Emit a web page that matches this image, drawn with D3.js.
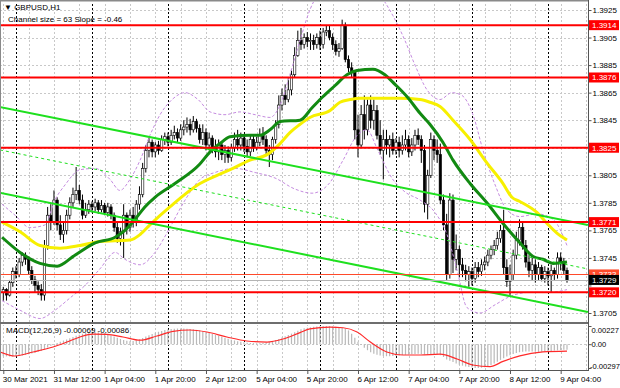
<!DOCTYPE html>
<html>
<head>
<meta charset="utf-8">
<script src="https://d3js.org/d3.v7.min.js"></script>
<style>
body { margin: 0; background: #fff; }
text { font-family: Tahoma, "Liberation Sans", Arial, sans-serif; }
</style>
</head>
<body>
<div id="chart-area"></div>
<script>
/*
*    GBPUSD H1 chart
*/

// hourly candles, [open, high, low, close], 30 Mar 20:00 .. 9 Apr 06:00
var candles = [
[1.3720,1.3724,1.3714,1.3722],[1.3722,1.3723,1.3714,1.3718],[1.3718,1.3729,1.3717,1.3727],[1.3727,1.3738,1.3724,1.3735],
[1.3735,1.3739,1.3730,1.3733],[1.3733,1.3745,1.3731,1.3742],[1.3742,1.3749,1.3739,1.3747],[1.3747,1.3749,1.3740,1.3744],
[1.3744,1.3746,1.3733,1.3736],[1.3736,1.3739,1.3726,1.3729],[1.3729,1.3732,1.3720,1.3725],[1.3725,1.3728,1.3718,1.3722],
[1.3722,1.3726,1.3714,1.3718],[1.3718,1.3758,1.3714,1.3754],[1.3754,1.3782,1.3751,1.3776],[1.3776,1.3784,1.3765,1.3771],
[1.3771,1.3794,1.3769,1.3787],[1.3787,1.3789,1.3765,1.3769],[1.3769,1.3776,1.3758,1.3762],[1.3762,1.3771,1.3756,1.3765],
[1.3765,1.3780,1.3762,1.3776],[1.3776,1.3789,1.3773,1.3785],[1.3785,1.3796,1.3782,1.3791],[1.3791,1.3811,1.3787,1.3794],
[1.3794,1.3798,1.3784,1.3787],[1.3787,1.3791,1.3773,1.3776],[1.3776,1.3785,1.3774,1.3780],[1.3780,1.3787,1.3777,1.3784],
[1.3784,1.3786,1.3778,1.3782],[1.3782,1.3788,1.3779,1.3785],[1.3785,1.3787,1.3777,1.3780],[1.3780,1.3787,1.3778,1.3783],
[1.3783,1.3785,1.3776,1.3778],[1.3778,1.3785,1.3775,1.3782],[1.3782,1.3784,1.3773,1.3776],[1.3776,1.3778,1.3764,1.3767],
[1.3767,1.3771,1.3756,1.3759],[1.3759,1.3767,1.3754,1.3764],[1.3764,1.3784,1.3745,1.3776],[1.3776,1.3778,1.3762,1.3767],
[1.3767,1.3780,1.3764,1.3776],[1.3776,1.3782,1.3767,1.3771],[1.3771,1.3787,1.3768,1.3784],[1.3784,1.3797,1.3780,1.3791],
[1.3791,1.3814,1.3789,1.3810],[1.3810,1.3827,1.3807,1.3823],[1.3823,1.3832,1.3818,1.3829],[1.3829,1.3831,1.3818,1.3822],
[1.3822,1.3829,1.3818,1.3827],[1.3827,1.3830,1.3820,1.3823],[1.3823,1.3834,1.3822,1.3831],[1.3831,1.3836,1.3827,1.3833],
[1.3833,1.3836,1.3826,1.3829],[1.3829,1.3838,1.3827,1.3834],[1.3834,1.3841,1.3831,1.3836],[1.3836,1.3839,1.3829,1.3832],
[1.3832,1.3842,1.3830,1.3838],[1.3838,1.3845,1.3834,1.3840],[1.3840,1.3847,1.3836,1.3842],[1.3842,1.3846,1.3834,1.3838],
[1.3838,1.3848,1.3836,1.3844],[1.3844,1.3846,1.3836,1.3839],[1.3839,1.3842,1.3828,1.3831],[1.3831,1.3842,1.3827,1.3836],
[1.3836,1.3839,1.3823,1.3827],[1.3827,1.3836,1.3823,1.3832],[1.3832,1.3834,1.3821,1.3825],[1.3825,1.3831,1.3818,1.3822],
[1.3822,1.3831,1.3816,1.3827],[1.3827,1.3829,1.3816,1.3820],[1.3820,1.3827,1.3814,1.3823],[1.3823,1.3826,1.3814,1.3818],
[1.3818,1.3828,1.3815,1.3825],[1.3825,1.3836,1.3822,1.3831],[1.3831,1.3838,1.3823,1.3827],[1.3827,1.3836,1.3823,1.3832],
[1.3832,1.3834,1.3822,1.3826],[1.3826,1.3831,1.3818,1.3822],[1.3822,1.3834,1.3819,1.3831],[1.3831,1.3834,1.3822,1.3825],
[1.3825,1.3833,1.3823,1.3829],[1.3829,1.3839,1.3826,1.3834],[1.3834,1.3840,1.3827,1.3831],[1.3831,1.3834,1.3820,1.3823],
[1.3823,1.3827,1.3811,1.3820],[1.3820,1.3833,1.3816,1.3831],[1.3831,1.3845,1.3828,1.3842],[1.3842,1.3863,1.3839,1.3856],
[1.3856,1.3868,1.3852,1.3863],[1.3863,1.3871,1.3856,1.3860],[1.3860,1.3876,1.3858,1.3867],[1.3867,1.3881,1.3863,1.3878],
[1.3878,1.3898,1.3876,1.3892],[1.3892,1.3910,1.3891,1.3903],[1.3903,1.3912,1.3896,1.3900],[1.3900,1.3908,1.3897,1.3905],
[1.3905,1.3909,1.3898,1.3902],[1.3902,1.3908,1.3896,1.3903],[1.3903,1.3907,1.3896,1.3900],[1.3900,1.3908,1.3897,1.3905],
[1.3905,1.3910,1.3896,1.3900],[1.3900,1.3912,1.3897,1.3909],[1.3909,1.3914,1.3906,1.3910],[1.3910,1.3914,1.3903,1.3905],
[1.3905,1.3908,1.3896,1.3900],[1.3900,1.3903,1.3892,1.3895],[1.3895,1.3901,1.3891,1.3897],[1.3897,1.3918,1.3896,1.3914],
[1.3914,1.3916,1.3887,1.3889],[1.3889,1.3892,1.3880,1.3883],[1.3883,1.3887,1.3876,1.3880],[1.3880,1.3881,1.3831,1.3838],
[1.3838,1.3849,1.3818,1.3827],[1.3827,1.3856,1.3825,1.3849],[1.3849,1.3863,1.3831,1.3838],[1.3838,1.3860,1.3834,1.3856],
[1.3856,1.3863,1.3839,1.3845],[1.3845,1.3860,1.3838,1.3852],[1.3852,1.3856,1.3831,1.3834],[1.3834,1.3845,1.3820,1.3823],
[1.3823,1.3838,1.3802,1.3831],[1.3831,1.3838,1.3820,1.3827],[1.3827,1.3834,1.3818,1.3831],[1.3831,1.3836,1.3820,1.3823],
[1.3823,1.3832,1.3820,1.3829],[1.3829,1.3833,1.3818,1.3823],[1.3823,1.3834,1.3820,1.3827],[1.3827,1.3838,1.3823,1.3831],
[1.3831,1.3834,1.3818,1.3822],[1.3822,1.3832,1.3819,1.3827],[1.3827,1.3838,1.3823,1.3834],[1.3834,1.3839,1.3827,1.3831],
[1.3831,1.3834,1.3814,1.3823],[1.3823,1.3827,1.3778,1.3784],[1.3784,1.3809,1.3773,1.3805],[1.3805,1.3836,1.3803,1.3831],
[1.3831,1.3834,1.3816,1.3823],[1.3823,1.3831,1.3814,1.3820],[1.3820,1.3828,1.3784,1.3787],[1.3787,1.3791,1.3765,1.3769],
[1.3769,1.3777,1.3729,1.3733],[1.3733,1.3792,1.3730,1.3787],[1.3787,1.3791,1.3734,1.3744],[1.3744,1.3762,1.3736,1.3751],
[1.3751,1.3754,1.3731,1.3740],[1.3740,1.3745,1.3731,1.3736],[1.3736,1.3740,1.3728,1.3733],[1.3733,1.3739,1.3724,1.3735],
[1.3735,1.3738,1.3725,1.3730],[1.3730,1.3742,1.3727,1.3738],[1.3738,1.3742,1.3731,1.3735],[1.3735,1.3744,1.3732,1.3740],
[1.3740,1.3746,1.3736,1.3742],[1.3742,1.3751,1.3739,1.3747],[1.3747,1.3754,1.3744,1.3751],[1.3751,1.3758,1.3747,1.3754],
[1.3754,1.3764,1.3751,1.3759],[1.3759,1.3769,1.3756,1.3765],[1.3765,1.3780,1.3733,1.3738],[1.3738,1.3744,1.3724,1.3728],
[1.3728,1.3740,1.3717,1.3733],[1.3733,1.3751,1.3729,1.3747],[1.3747,1.3764,1.3744,1.3758],[1.3758,1.3773,1.3754,1.3767],
[1.3767,1.3771,1.3751,1.3754],[1.3754,1.3758,1.3738,1.3742],[1.3742,1.3747,1.3731,1.3736],[1.3736,1.3745,1.3729,1.3740],
[1.3740,1.3744,1.3727,1.3733],[1.3733,1.3742,1.3729,1.3738],[1.3738,1.3740,1.3728,1.3730],[1.3730,1.3739,1.3727,1.3735],
[1.3735,1.3738,1.3725,1.3732],[1.3732,1.3740,1.3720,1.3736],[1.3736,1.3738,1.3729,1.3733],[1.3733,1.3749,1.3730,1.3745],
[1.3745,1.3749,1.3736,1.3742],[1.3742,1.3745,1.3733,1.3736],[1.3736,1.3738,1.3727,1.3729]
];

// moving averages and bands, [bar, price]
var maGreen = [[-0.4,1.3760],[5.3,1.3749],[11.6,1.3741],[17,1.3739],[22.6,1.3747],[29,1.3756],[35.3,1.3760],
  [38.4,1.3765],[41.6,1.3773],[44.7,1.3782],[47.9,1.3789],[54.2,1.3799],[62,1.3813],[65.3,1.3822],[68.4,1.3828],
  [71.6,1.3833],[77.9,1.3834],[81,1.3834],[84.2,1.3838],[87.4,1.3844],[93.7,1.3845],[97.5,1.3854],[100.9,1.3862],
  [104.7,1.3870],[108.5,1.3878],[111.7,1.3881],[116.7,1.3882],[120.5,1.3878],[123.7,1.3871],[127.5,1.3862],
  [131.6,1.3850],[134.7,1.3842],[138.8,1.3829],[142,1.3816],[147.4,1.3799],[152.7,1.3785],[157.8,1.3770],
  [163.1,1.3756],[167.3,1.3746],[170.4,1.3744],[173.6,1.3741],[178,1.3742]];
var maYellow = [[-0.4,1.3771],[5.3,1.3764],[11.6,1.3754],[17.9,1.3752],[24.2,1.3754],[30.5,1.3757],[40,1.3758],
  [43.2,1.3762],[46.3,1.3769],[52.6,1.3782],[62.1,1.3799],[67.5,1.3805],[72.5,1.3810],[77.9,1.3816],[83.3,1.3820],
  [87.4,1.3828],[90.5,1.3836],[93.7,1.3842],[96.8,1.3847],[103.2,1.3852],[106.3,1.3858],[109.5,1.3860],
  [112.6,1.3861],[116.7,1.3861],[125.3,1.3861],[131.6,1.3860],[134.7,1.3858],[137.9,1.3855],[142,1.3845],
  [147.4,1.3831],[152.7,1.3814],[157.8,1.3799],[160.6,1.3789],[163.1,1.3786],[168.5,1.3778],[171.7,1.3770],
  [174.8,1.3763],[178,1.3758]];
var bandUpper = [[-0.4,1.3784],[3.7,1.3776],[8.4,1.3767],[13.2,1.3769],[16.3,1.3787],[19.5,1.3798],[24.2,1.3809],
  [29,1.3810],[33.7,1.3802],[36.8,1.3794],[40,1.3802],[43.2,1.3816],[46.3,1.3834],[49.5,1.3849],[53.3,1.3860],
  [57.4,1.3865],[61.5,1.3860],[65.3,1.3851],[70,1.3849],[74.7,1.3851],[79.5,1.3849],[84.2,1.3847],[87.4,1.3856],
  [90.5,1.3878],[93.7,1.3903],[96.8,1.3925],[101.6,1.3943],[107.9,1.3954],[114.2,1.3947],[118.9,1.3936],
  [123,1.3921],[126.8,1.3903],[130,1.3885],[133.8,1.3867],[137.9,1.3860],[141.7,1.3865],[144.8,1.3863],
  [148.3,1.3849],[151.5,1.3823],[155.3,1.3798],[159,1.3780],[163.1,1.3775],[168.5,1.3777],[173.6,1.3773],[178,1.3754]];
var bandLower = [[-0.4,1.3714],[5.3,1.3707],[11.6,1.3701],[16.3,1.3707],[21.1,1.3716],[25.8,1.3725],[30.5,1.3737],
  [35.3,1.3749],[38.4,1.3744],[43.2,1.3740],[47.9,1.3749],[52.6,1.3767],[57.4,1.3787],[62.1,1.3802],[66.8,1.3807],
  [73.2,1.3810],[79.5,1.3807],[85.8,1.3803],[92.1,1.3795],[97.5,1.3792],[102.5,1.3798],[107.3,1.3816],
  [111.7,1.3834],[114.8,1.3838],[118.3,1.3823],[122.7,1.3803],[126.8,1.3793],[131.6,1.3787],[136.3,1.3778],
  [140.1,1.3762],[143.3,1.3736],[146.4,1.3709],[150.5,1.3705],[155.3,1.3711],[160,1.3717],[166.3,1.3720],
  [172.6,1.3720],[178,1.3722]];

// regression channel, [bar, price] at both ends
var channelUpper = [[-1.04,1.38546],[184.6,1.37689]];
var channelMiddle = [[-1.04,1.38234],[184.6,1.37370]];
var channelLower = [[-1.04,1.37922],[184.6,1.37058]];

var levels = [1.3914, 1.3876, 1.3825, 1.3771, 1.3720];
var askLevel = 1.3733;
var lastPrice = 1.3729;

var priceTicks = [1.3925,1.3905,1.3885,1.3865,1.3845,1.3825,1.3805,1.3785,1.3765,1.3745,1.3725,1.3705];
var hiddenTicks = [1.3825, 1.3725];
var timeBars = [0,16,32,48,64,80,96,112,128,144,160,176];
var timeLabels = ["30 Mar 2021","31 Mar 12:00","1 Apr 04:00","1 Apr 20:00","2 Apr 12:00","5 Apr 04:00",
  "5 Apr 20:00","6 Apr 12:00","7 Apr 04:00","7 Apr 20:00","8 Apr 12:00","9 Apr 04:00"];
var dayStarts = [4,28,52,76,100,124,148,172];
var gridBars = d3.range(0, 186, 8);

// MACD(12,26,9) main values per bar and signal line
var macdMain = [
-0.00150,-0.00152,-0.00153,-0.00152,-0.00150,-0.00146,-0.00140,-0.00133,-0.00125,-0.00116,-0.00106,-0.00095,-0.00084,
-0.00065,-0.00042,-0.00020,0.00000,0.00015,0.00030,0.00045,0.00058,0.00075,0.00090,0.00105,0.00118,0.00130,0.00140,
0.00146,0.00150,0.00150,0.00148,0.00144,0.00138,0.00125,0.00110,0.00095,0.00080,0.00065,0.00052,0.00042,0.00038,
0.00040,0.00048,0.00060,0.00078,0.00095,0.00112,0.00128,0.00142,0.00155,0.00166,0.00176,0.00184,0.00190,0.00194,
0.00196,0.00197,0.00196,0.00194,0.00190,0.00185,0.00178,0.00170,0.00160,0.00150,0.00140,0.00128,0.00116,0.00104,
0.00092,0.00080,0.00068,0.00057,0.00047,0.00038,0.00030,0.00024,0.00019,0.00015,0.00013,0.00012,0.00013,0.00016,
0.00022,0.00030,0.00040,0.00052,0.00066,0.00082,0.00098,0.00115,0.00132,0.00150,0.00168,0.00185,0.00198,0.00205,
0.00210,0.00217,0.00222,0.00225,0.00227,0.00227,0.00225,0.00222,0.00217,0.00210,0.00202,0.00194,0.00172,0.00130,
0.00080,0.00030,-0.00010,-0.00045,-0.00075,-0.00100,-0.00118,-0.00132,-0.00142,-0.00148,-0.00150,-0.00150,-0.00148,
-0.00146,-0.00140,-0.00136,-0.00132,-0.00128,-0.00125,-0.00122,-0.00120,-0.00122,-0.00128,-0.00132,-0.00125,-0.00122,
-0.00125,-0.00138,-0.00160,-0.00190,-0.00205,-0.00222,-0.00240,-0.00256,-0.00268,-0.00278,-0.00286,-0.00292,-0.00296,
-0.00297,-0.00294,-0.00288,-0.00276,-0.00260,-0.00240,-0.00218,-0.00196,-0.00175,-0.00155,-0.00138,-0.00122,-0.00110,
-0.00100,-0.00094,-0.00090,-0.00090,-0.00092,-0.00094,-0.00095,-0.00094,-0.00092,-0.00088,-0.00084,-0.00080,-0.00076,
-0.00073,-0.00070,-0.00069
];
var macdSignal = [[-1,-0.00097],[3.7,-0.00147],[9.4,-0.00097],[15.7,-0.00035],[20.1,0.00027],[24.2,0.00090],
  [28.3,0.00125],[32.7,0.00122],[37.8,0.00090],[43.2,0.00050],[48.5,0.00102],[53.6,0.00160],[58.9,0.00177],
  [64.3,0.00152],[70.6,0.00090],[76.9,0.00040],[83.3,0.00027],[88.3,0.00065],[93.7,0.00145],[96.8,0.00190],
  [103.2,0.00212],[107.3,0.00205],[111.7,0.00152],[115.8,0.00030],[121.1,-0.00097],[126.2,-0.00135],
  [131.6,-0.00135],[137.9,-0.00125],[143.3,-0.00185],[148.3,-0.00260],[153.7,-0.00280],[157.8,-0.00215],
  [163.1,-0.00145],[170.4,-0.00097],[178,-0.00086]];
var macdTicks = [0.00227, 0, -0.00297];
var macdTickLabels = ["0.00227", "0.00", "-0.00297"];

var width = 620;
var height = 388;
var plotRight = 588;
var mainTop = 2, mainBottom = 322;
var macdTop = 325, macdBottom = 370;

var svg = d3.select("#chart-area").append("svg")
    .attr("width", width)
    .attr("height", height)
    .style("display", "block");

var x = d3.scaleLinear().domain([0, 172]).range([3.3, 548]);
var y = d3.scaleLinear().domain([1.3705, 1.3925]).range([313, 10]);
var ym = d3.scaleLinear().domain([-0.00297, 0.00227]).range([368, 326]);

var defs = svg.append("defs");
defs.append("clipPath").attr("id", "clip-main")
  .append("rect").attr("x", 1).attr("y", mainTop).attr("width", plotRight - 1).attr("height", mainBottom - mainTop);
defs.append("clipPath").attr("id", "clip-macd")
  .append("rect").attr("x", 1).attr("y", macdTop).attr("width", plotRight - 1).attr("height", macdBottom - macdTop);

var main = svg.append("g").attr("clip-path", "url(#clip-main)");
var macd = svg.append("g").attr("clip-path", "url(#clip-macd)");

// grid
main.selectAll(".hgrid").data(priceTicks).enter().append("line")
    .attr("x1", 0).attr("x2", plotRight)
    .attr("y1", d => Math.round(y(d)) + 0.5).attr("y2", d => Math.round(y(d)) + 0.5)
    .attr("stroke", "#c8c8c8").attr("stroke-dasharray", "2,2");

[main, macd].forEach(function(g) {
    g.selectAll(".vgrid").data(gridBars).enter().append("line")
        .attr("x1", d => Math.round(x(d)) + 0.5).attr("x2", d => Math.round(x(d)) + 0.5)
        .attr("y1", 0).attr("y2", height)
        .attr("stroke", "#c8c8c8").attr("stroke-dasharray", "2,2");
    g.selectAll(".daysep").data(dayStarts).enter().append("line")
        .attr("x1", d => Math.round(x(d)) + 0.5).attr("x2", d => Math.round(x(d)) + 0.5)
        .attr("y1", 0).attr("y2", height)
        .attr("stroke", "#000").attr("stroke-dasharray", "2,2");
});

macd.append("line")
    .attr("x1", 0).attr("x2", plotRight)
    .attr("y1", Math.round(ym(0)) + 0.5).attr("y2", Math.round(ym(0)) + 0.5)
    .attr("stroke", "#c8c8c8").attr("stroke-dasharray", "2,2");

// candles
var candle = main.append("g").selectAll("g").data(candles).enter().append("g");
candle.append("line")
    .attr("x1", (d, i) => x(i)).attr("x2", (d, i) => x(i))
    .attr("y1", d => y(d[1])).attr("y2", d => y(d[2]))
    .attr("stroke", "#000").attr("stroke-width", 1);
candle.append("rect")
    .attr("x", (d, i) => x(i) - 1.2)
    .attr("width", 2.4)
    .attr("y", d => y(Math.max(d[0], d[3])))
    .attr("height", d => Math.max(0.8, Math.abs(y(d[0]) - y(d[3]))))
    .attr("fill", d => d[3] >= d[0] ? "#fff" : "#000")
    .attr("stroke", "#000").attr("stroke-width", 0.6);

var priceLine = d3.line()
    .x(d => x(d[0]))
    .y(d => y(d[1]))
    .curve(d3.curveMonotoneX);

// bollinger bands
[bandUpper, bandLower].forEach(function(b) {
    main.append("path").datum(b)
        .attr("d", priceLine)
        .attr("fill", "none").attr("stroke", "#c58be0")
        .attr("stroke-width", 1).attr("stroke-dasharray", "3,2");
});

// moving averages
main.append("path").datum(maYellow)
    .attr("d", priceLine)
    .attr("fill", "none").attr("stroke", "#f7f000").attr("stroke-width", 3);
main.append("path").datum(maGreen)
    .attr("d", priceLine)
    .attr("fill", "none").attr("stroke", "#128a12").attr("stroke-width", 3);

// channel
var straight = d3.line().x(d => x(d[0])).y(d => y(d[1]));
main.append("path").datum(channelUpper).attr("d", straight)
    .attr("stroke", "#1ee01e").attr("stroke-width", 2).attr("fill", "none");
main.append("path").datum(channelLower).attr("d", straight)
    .attr("stroke", "#1ee01e").attr("stroke-width", 2).attr("fill", "none");
main.append("path").datum(channelMiddle).attr("d", straight)
    .attr("stroke", "#1ee01e").attr("stroke-width", 1).attr("stroke-dasharray", "3,3").attr("fill", "none");

// horizontal levels
main.selectAll(".level").data(levels).enter().append("line")
    .attr("x1", 0).attr("x2", plotRight)
    .attr("y1", d => y(d)).attr("y2", d => y(d))
    .attr("stroke", "#ff0000").attr("stroke-width", 2);
main.append("line")
    .attr("x1", 0).attr("x2", plotRight)
    .attr("y1", Math.round(y(askLevel)) + 0.5).attr("y2", Math.round(y(askLevel)) + 0.5)
    .attr("stroke", "#ff4a2a").attr("stroke-width", 1);
main.append("line")
    .attr("x1", 0).attr("x2", plotRight)
    .attr("y1", Math.round(y(lastPrice)) + 0.5).attr("y2", Math.round(y(lastPrice)) + 0.5)
    .attr("stroke", "#b4b4b4").attr("stroke-width", 1);

// MACD histogram and signal
macd.selectAll(".hist").data(macdMain).enter().append("line")
    .attr("x1", (d, i) => x(i)).attr("x2", (d, i) => x(i))
    .attr("y1", ym(0)).attr("y2", d => ym(d))
    .attr("stroke", "#b9b9b9").attr("stroke-width", 1.2);
macd.append("path").datum(macdSignal)
    .attr("d", d3.line().x(d => x(d[0])).y(d => ym(d[1])).curve(d3.curveMonotoneX))
    .attr("fill", "none").attr("stroke", "#ff2a2a").attr("stroke-width", 1.2);

// frame
svg.append("rect").attr("x", 0).attr("y", 0).attr("width", plotRight).attr("height", 1.5).attr("fill", "#8a8a8a");
svg.append("line").attr("x1", 0.5).attr("x2", 0.5).attr("y1", 0).attr("y2", macdBottom + 1).attr("stroke", "#8a8a8a");
svg.append("rect").attr("x", 0).attr("y", mainBottom).attr("width", plotRight).attr("height", 2).attr("fill", "#6e6e6e");
svg.append("line").attr("x1", 0).attr("x2", plotRight).attr("y1", macdBottom + 0.5).attr("y2", macdBottom + 0.5).attr("stroke", "#555");
svg.append("line").attr("x1", plotRight + 0.5).attr("x2", plotRight + 0.5).attr("y1", 0).attr("y2", macdBottom + 1).attr("stroke", "#555");

// price axis
var rightAxis = d3.axisRight(y)
    .tickValues(priceTicks)
    .tickSize(3)
    .tickFormat(d => hiddenTicks.indexOf(d) >= 0 ? "" : d3.format(".4f")(d));
var ra = svg.append("g")
    .attr("transform", "translate(" + (plotRight + 0.5) + ",0)")
    .call(rightAxis);
ra.select(".domain").remove();
ra.selectAll("line").attr("stroke", "#555");
ra.selectAll("text").attr("x", 4).attr("font-size", "8px").attr("fill", "#000").attr("font-family", null);

// level labels
function priceTag(v, bg) {
    var g = svg.append("g").attr("transform", "translate(" + (plotRight + 1) + "," + y(v) + ")");
    g.append("rect").attr("x", 0).attr("y", -5).attr("width", 30).attr("height", 10).attr("fill", bg);
    g.append("text").attr("x", 3).attr("y", 3).attr("font-size", "8px").attr("fill", "#fff")
        .text(d3.format(".4f")(v));
}
levels.forEach(v => priceTag(v, "#ff0000"));
priceTag(askLevel, "#ff4a2a");
priceTag(lastPrice, "#000");

// MACD axis
var macdAxis = d3.axisRight(ym)
    .tickValues(macdTicks)
    .tickSize(3)
    .tickFormat((d, i) => macdTickLabels[i]);
var ma = svg.append("g")
    .attr("transform", "translate(" + (plotRight + 0.5) + ",0)")
    .call(macdAxis);
ma.select(".domain").remove();
ma.selectAll("line").attr("stroke", "#555");
ma.selectAll("text").attr("x", 3).attr("font-size", "7.6px").attr("fill", "#000").attr("font-family", null);
ma.selectAll(".tick").filter(d => d > 0).select("text").attr("dy", "0.9em");
ma.selectAll(".tick").filter(d => d < 0).select("text").attr("dy", "0.0em").attr("x", 1.5);

// time axis
var bottomAxis = d3.axisBottom(x)
    .tickValues(timeBars)
    .tickSize(3)
    .tickFormat((d, i) => timeLabels[i]);
var ba = svg.append("g")
    .attr("transform", "translate(0," + (macdBottom + 1) + ")")
    .call(bottomAxis);
ba.select(".domain").remove();
ba.selectAll("line").attr("stroke", "#555");
ba.selectAll("text")
    .attr("text-anchor", "start")
    .attr("x", -1)
    .attr("y", 5)
    .attr("font-size", "8px")
    .attr("fill", "#000")
    .attr("font-family", null);

// titles
svg.append("text").attr("x", 4).attr("y", 10).attr("font-size", "8px").text("\u25BC GBPUSD,H1");
svg.append("text").attr("x", 8).attr("y", 22).attr("font-size", "8px").text("Channel size = 63 Slope = -0.46");
svg.append("text").attr("x", 6).attr("y", 333).attr("font-size", "8px").text("MACD(12,26,9) -0.00069 -0.00086");
</script>
</body>
</html>
